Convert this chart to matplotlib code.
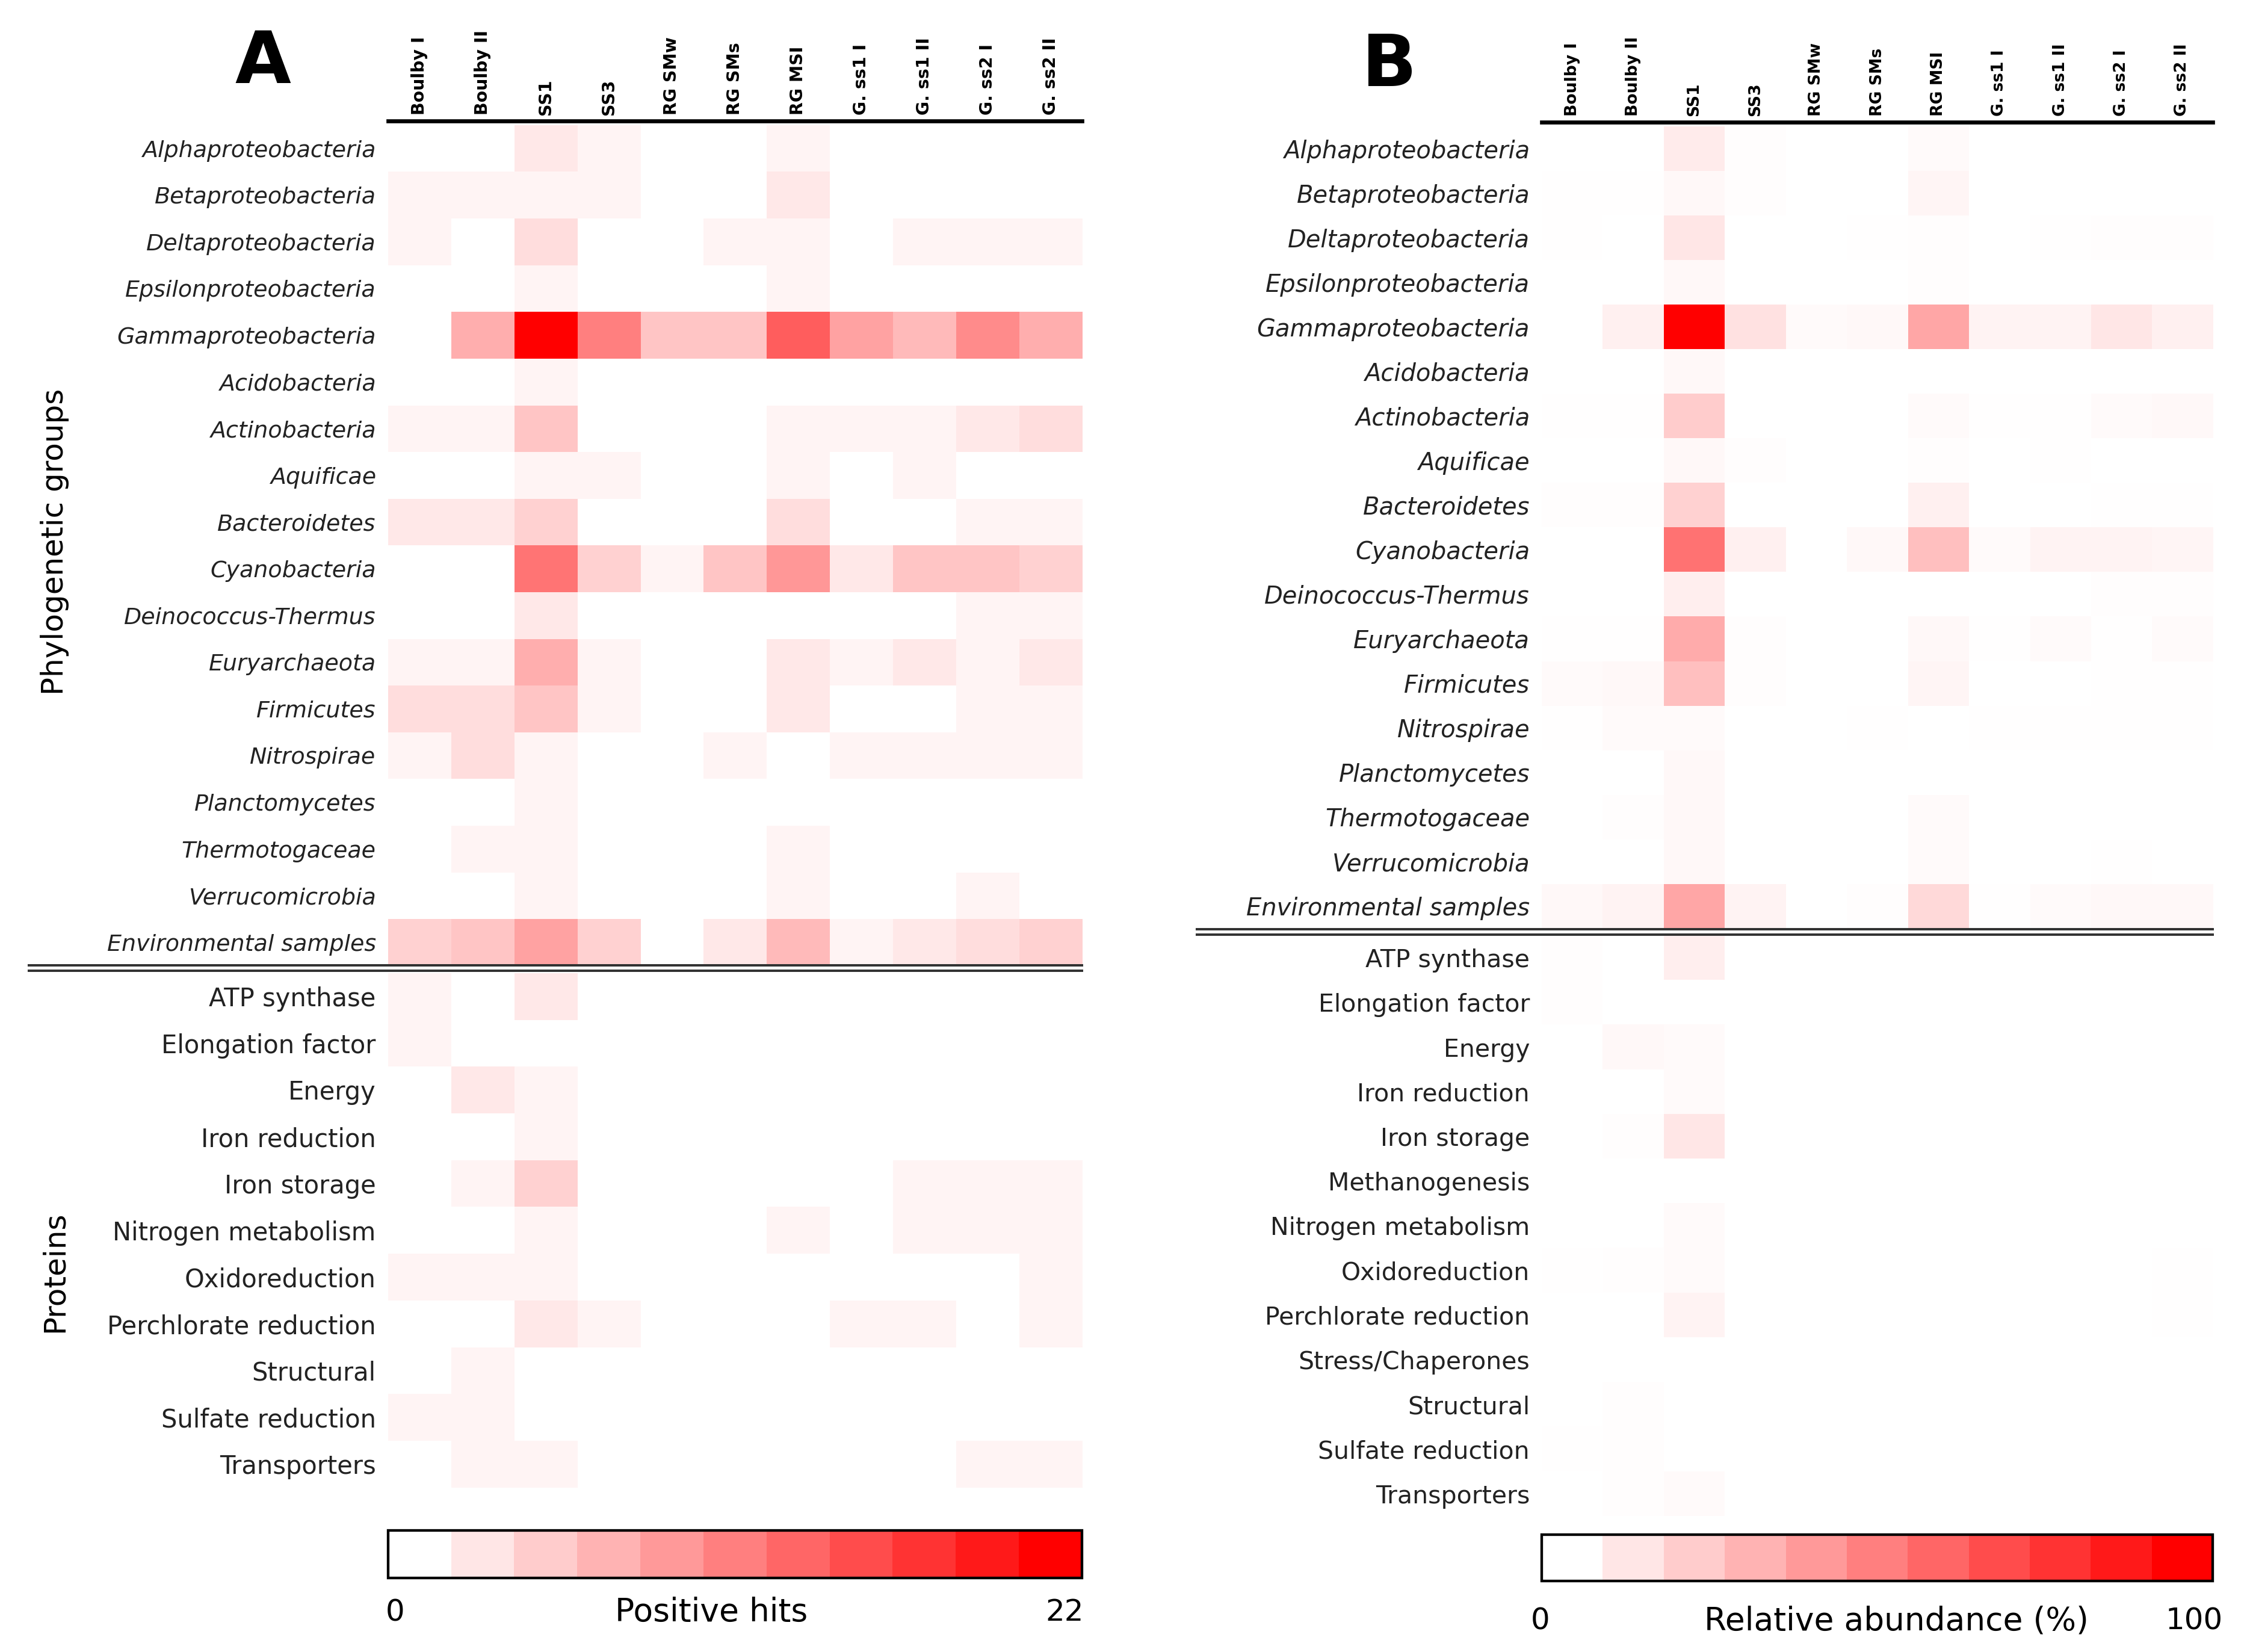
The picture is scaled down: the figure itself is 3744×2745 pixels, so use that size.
import numpy as np
import matplotlib
matplotlib.use("Agg")
import matplotlib.pyplot as plt
from matplotlib.colors import LinearSegmentedColormap, ListedColormap, Normalize
from matplotlib.cm import ScalarMappable
from matplotlib.lines import Line2D

samples = ["Boulby I", "Boulby II", "SS1", "SS3", "RG SMw", "RG SMs", "RG MSI",
           "G. ss1 I", "G. ss1 II", "G. ss2 I", "G. ss2 II"]

phylo_groups = ["Alphaproteobacteria", "Betaproteobacteria", "Deltaproteobacteria",
                "Epsilonproteobacteria", "Gammaproteobacteria", "Acidobacteria",
                "Actinobacteria", "Aquificae", "Bacteroidetes", "Cyanobacteria",
                "Deinococcus-Thermus", "Euryarchaeota", "Firmicutes", "Nitrospirae",
                "Planctomycetes", "Thermotogaceae", "Verrucomicrobia",
                "Environmental samples"]

proteins_a = ["ATP synthase", "Elongation factor", "Energy", "Iron reduction",
              "Iron storage", "Nitrogen metabolism", "Oxidoreduction",
              "Perchlorate reduction", "Structural", "Sulfate reduction", "Transporters"]

proteins_b = ["ATP synthase", "Elongation factor", "Energy", "Iron reduction",
              "Iron storage", "Methanogenesis", "Nitrogen metabolism", "Oxidoreduction",
              "Perchlorate reduction", "Stress/Chaperones", "Structural",
              "Sulfate reduction", "Transporters"]

# panel A: positive hits (0-22)
hits_phylo = np.array([
    [0, 0, 2, 1, 0, 0, 1, 0, 0, 0, 0],
    [1, 1, 1, 1, 0, 0, 2, 0, 0, 0, 0],
    [1, 0, 3, 0, 0, 1, 1, 0, 1, 1, 1],
    [0, 0, 1, 0, 0, 0, 1, 0, 0, 0, 0],
    [0, 7, 22, 11, 5, 5, 14, 8, 6, 10, 7],
    [0, 0, 1, 0, 0, 0, 0, 0, 0, 0, 0],
    [1, 1, 5, 0, 0, 0, 1, 1, 1, 2, 3],
    [0, 0, 1, 1, 0, 0, 1, 0, 1, 0, 0],
    [2, 2, 4, 0, 0, 0, 3, 0, 0, 1, 1],
    [0, 0, 12, 4, 1, 5, 9, 2, 5, 5, 4],
    [0, 0, 2, 0, 0, 0, 0, 0, 0, 1, 1],
    [1, 1, 7, 1, 0, 0, 2, 1, 2, 1, 2],
    [3, 3, 5, 1, 0, 0, 2, 0, 0, 1, 1],
    [1, 3, 1, 0, 0, 1, 0, 1, 1, 1, 1],
    [0, 0, 1, 0, 0, 0, 0, 0, 0, 0, 0],
    [0, 1, 1, 0, 0, 0, 1, 0, 0, 0, 0],
    [0, 0, 1, 0, 0, 0, 1, 0, 0, 1, 0],
    [4, 5, 8, 4, 0, 2, 6, 1, 2, 3, 4],
])

hits_prot = np.array([
    [1, 0, 2, 0, 0, 0, 0, 0, 0, 0, 0],
    [1, 0, 0, 0, 0, 0, 0, 0, 0, 0, 0],
    [0, 2, 1, 0, 0, 0, 0, 0, 0, 0, 0],
    [0, 0, 1, 0, 0, 0, 0, 0, 0, 0, 0],
    [0, 1, 4, 0, 0, 0, 0, 0, 1, 1, 1],
    [0, 0, 1, 0, 0, 0, 1, 0, 1, 1, 1],
    [1, 1, 1, 0, 0, 0, 0, 0, 0, 0, 1],
    [0, 0, 2, 1, 0, 0, 0, 1, 1, 0, 1],
    [0, 1, 0, 0, 0, 0, 0, 0, 0, 0, 0],
    [1, 1, 0, 0, 0, 0, 0, 0, 0, 0, 0],
    [0, 1, 1, 0, 0, 0, 0, 0, 0, 1, 1],
])

# panel B: relative abundance (%)
abund_phylo = np.array([
    [0, 0, 8, 1, 0, 0, 2, 0, 0, 0, 0],
    [0.5, 0.5, 3, 1, 0, 0, 4, 0, 0, 0, 0],
    [0.5, 0, 10, 0, 0, 0.5, 1, 0, 0.5, 1, 1],
    [0, 0, 3, 0, 0, 0, 1, 0, 0, 0, 0],
    [0, 6, 100, 12, 2, 3, 35, 5, 5, 10, 6],
    [0, 0, 3, 0, 0, 0, 0, 0, 0, 0, 0],
    [0.5, 0.5, 20, 0, 0, 0, 2, 0.5, 0.5, 2, 3],
    [0, 0, 3, 1, 0, 0, 1, 0, 0.5, 0, 0],
    [1, 1, 18, 0, 0, 0, 6, 0, 0, 0.5, 0.5],
    [0, 0, 55, 6, 0, 3, 25, 2, 5, 5, 4],
    [0, 0, 7, 0, 0, 0, 0, 0, 0, 1, 1],
    [0.5, 0.5, 33, 1, 0, 0, 3, 0.5, 2, 0.5, 2],
    [2, 3, 25, 1, 0, 0, 4, 0, 0, 0.5, 0.5],
    [0.5, 2, 2, 0, 0, 0.5, 0, 0.5, 0.5, 0.5, 0.5],
    [0, 0, 3, 0, 0, 0, 0, 0, 0, 0, 0],
    [0, 1, 3, 0, 0, 0, 2, 0, 0, 0, 0],
    [0, 0, 3, 0, 0, 0, 2, 0, 0, 0.5, 0],
    [3, 5, 35, 5, 0, 1, 15, 0.5, 2, 3, 3],
])

abund_prot = np.array([
    [1, 0, 7, 0, 0, 0, 0, 0, 0, 0, 0],
    [1, 0, 0, 0, 0, 0, 0, 0, 0, 0, 0],
    [0, 3, 2, 0, 0, 0, 0, 0, 0, 0, 0],
    [0, 0, 2, 0, 0, 0, 0, 0, 0, 0, 0],
    [0, 1, 10, 0, 0, 0, 0, 0, 0.3, 0.3, 0.3],
    [0, 0, 0, 0, 0, 0, 0, 0, 0, 0, 0],
    [0, 0, 2, 0, 0, 0, 0, 0, 0, 0, 0],
    [0.5, 1, 2, 0, 0, 0, 0, 0, 0, 0, 0.5],
    [0, 0, 5, 0, 0, 0, 0, 0, 0.3, 0, 0.5],
    [0, 0, 0, 0, 0, 0, 0, 0, 0, 0, 0],
    [0, 1, 0, 0, 0, 0, 0, 0, 0, 0, 0],
    [0.5, 1, 0, 0, 0, 0, 0, 0, 0, 0, 0],
    [0, 1, 2, 0, 0, 0, 0, 0, 0, 0.3, 0.3],
])

W, H = 1568.0, 1149.5  # layout units (reference pixels / 2.388)

cmap = LinearSegmentedColormap.from_list("wr", ["white", "red"])
steps = ListedColormap(cmap(np.linspace(0, 1, 11)))

fig = plt.figure(figsize=(15.6, 11.4375), dpi=240)


def rect(x0, x1, y0, y1):
    return [x0 / W, 1 - y1 / H, (x1 - x0) / W, (y1 - y0) / H]


def hline(x0, x1, y, lw, color="black"):
    fig.add_artist(Line2D([x0 / W, x1 / W], [1 - y / H, 1 - y / H],
                          color=color, lw=lw, transform=fig.transFigure))


def block(r, data, vmax, rows, italic, labsize, cols=None, colsize=8.5):
    ax = fig.add_axes(r)
    ax.imshow(data, cmap=cmap, vmin=0, vmax=vmax, aspect="auto", interpolation="nearest")
    ax.set_yticks(range(len(rows)))
    ax.set_yticklabels(rows, fontsize=labsize,
                       fontstyle="italic" if italic else "normal", color="#222222")
    ax.tick_params(length=0, pad=6)
    for s in ax.spines.values():
        s.set_visible(False)
    if cols is not None:
        ax.xaxis.tick_top()
        ax.set_xticks(range(len(cols)))
        ax.set_xticklabels(cols, rotation=90, fontweight="bold", fontsize=colsize)
        ax.tick_params(axis="x", pad=5)
    else:
        ax.set_xticks([])
    return ax


def cbar(r, vmax):
    cax = fig.add_axes(r)
    cb = fig.colorbar(ScalarMappable(norm=Normalize(0, vmax), cmap=steps), cax=cax,
                      orientation="horizontal")
    cb.set_ticks([])
    cb.outline.set_linewidth(1.3)
    return cb


# ---- panel A ----
block(rect(270, 753, 87, 672), hits_phylo, 22, phylo_groups, True, 11.4, samples, 8.5)
block(rect(270, 753, 677, 1035), hits_prot, 22, proteins_a, False, 12.5)
cbar(rect(270, 753, 1065, 1098), 22)
hline(270, 753, 84, 2.0)
hline(20, 753, 671.5, 1.2, "#333333")
hline(20, 753, 675.5, 1.2, "#333333")
fig.text(183 / W, 1 - 44 / H, "A", fontsize=36, fontweight="bold", ha="center", va="center")
fig.text(38 / W, 1 - 377 / H, "Phylogenetic groups", rotation=90, fontsize=15,
         ha="center", va="center")
fig.text(38 / W, 1 - 885 / H, "Proteins", rotation=90, fontsize=15, ha="center", va="center")
fig.text(275 / W, 1 - 1122 / H, "0", fontsize=15, ha="center", va="center")
fig.text(495 / W, 1 - 1122 / H, "Positive hits", fontsize=16, ha="center", va="center")
fig.text(741 / W, 1 - 1122 / H, "22", fontsize=15, ha="center", va="center")

# ---- panel B ----
block(rect(1073, 1540, 88, 646), abund_phylo, 100, phylo_groups, True, 12, samples, 8)
block(rect(1073, 1540, 651, 1055), abund_prot, 100, proteins_b, False, 12.3)
cbar(rect(1073, 1540, 1068, 1100), 100)
hline(1073, 1540, 85, 2.0)
hline(833, 1540, 646.5, 1.2, "#333333")
hline(833, 1540, 650.5, 1.2, "#333333")
fig.text(967 / W, 1 - 46 / H, "B", fontsize=36, fontweight="bold", ha="center", va="center")
fig.text(1072 / W, 1 - 1128 / H, "0", fontsize=15, ha="center", va="center")
fig.text(1320 / W, 1 - 1128 / H, "Relative abundance (%)", fontsize=16,
         ha="center", va="center")
fig.text(1527 / W, 1 - 1128 / H, "100", fontsize=15, ha="center", va="center")

fig.savefig("out.png", dpi=240, facecolor="white")
